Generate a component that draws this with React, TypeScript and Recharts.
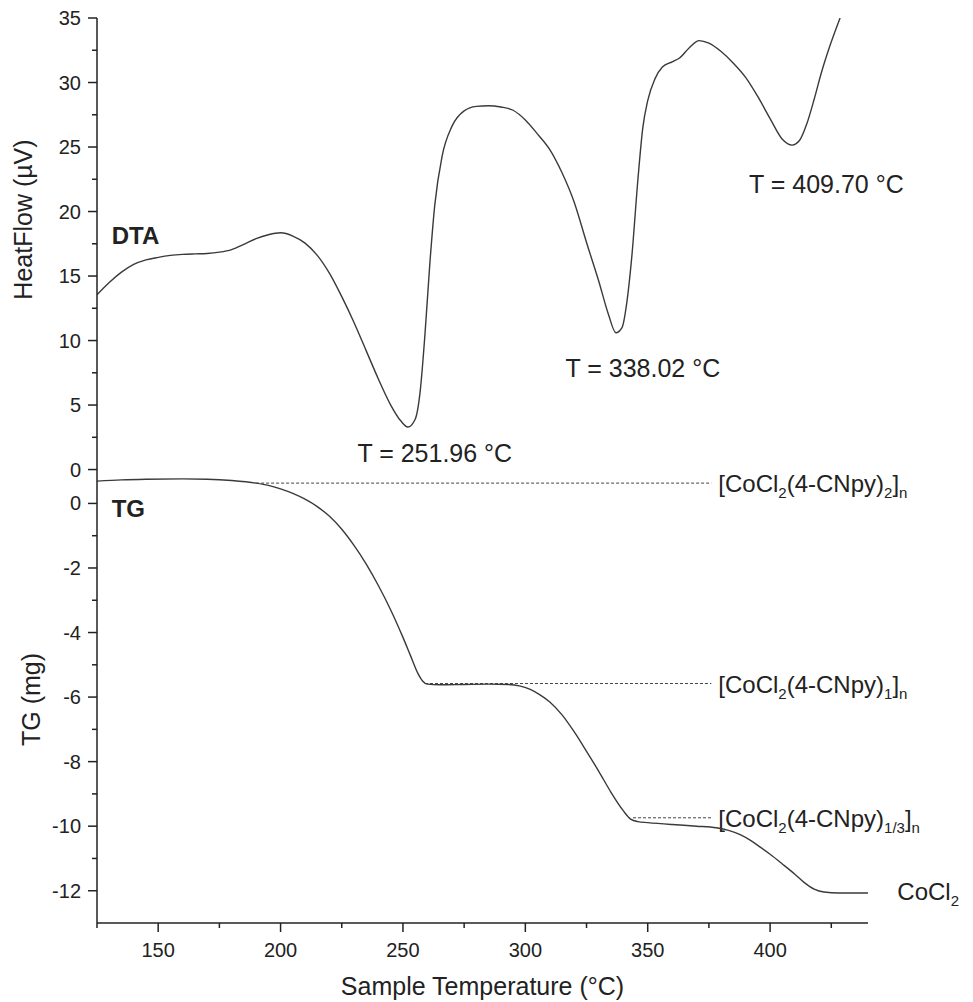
import { LineChart, Line, XAxis, YAxis, ReferenceLine, ReferenceDot } from 'recharts';

const FONT = '"Liberation Sans", Arial, sans-serif';
const INK = '#222';
const CURVE = '#3a3a3a';

// DTA trace (heat flow, µV)
const dtaTemp = [
  125, 130, 135, 140, 145, 150, 155, 160, 165, 170, 175, 180, 185, 190, 195, 200, 205, 210, 215, 220,
  225, 230, 235, 240, 245, 249, 252, 255, 257, 259, 261, 263, 266, 270, 275, 280, 285, 290, 295, 300,
  305, 310, 315, 320, 325, 330, 334, 337, 339.5, 341.5, 343.5, 346, 348, 350, 353, 356, 360, 363, 367,
  371, 375, 380, 385, 390, 395, 400, 405, 409, 412, 415, 418, 421, 424, 428.6,
];
const dtaHeat = [
  13.55, 14.5, 15.3, 15.9, 16.25, 16.45, 16.6, 16.68, 16.72, 16.75, 16.85, 17.05, 17.45, 17.9, 18.2,
  18.35, 18.1, 17.55, 16.6, 15.2, 13.4, 11.4, 9.2, 7.0, 5.0, 3.8, 3.3, 3.9, 6.0, 10.5, 16.0, 20.5,
  24.3, 26.6, 27.8, 28.15, 28.2, 28.1, 27.85, 27.1, 26.0, 24.8, 23.0, 20.7, 17.6, 14.6, 12.0, 10.6,
  11.0, 13.0, 16.5, 22.5, 26.5, 28.6, 30.3, 31.2, 31.6, 31.9, 32.7, 33.25, 33.05, 32.4, 31.5, 30.4,
  28.9, 27.2, 25.6, 25.15, 25.5, 26.8, 28.7, 30.8, 32.6, 35,
];

// TG trace (mass change, mg)
const tgTemp = [
  125, 135, 145, 160, 170, 180, 190, 195, 200, 205, 210, 215, 220, 225, 230, 235, 240, 245, 250, 253,
  256, 258, 260, 265, 275, 285, 293, 298, 302, 306, 310, 315, 320, 325, 330, 335, 340, 343, 346, 350,
  360, 370, 378, 383, 388, 392, 396, 400, 405, 410, 414, 418, 422, 428, 440,
];
const tgMass = [
  0.69, 0.73, 0.75, 0.76, 0.75, 0.71, 0.63, 0.56, 0.45, 0.31, 0.13, -0.1, -0.4, -0.8, -1.3, -1.88,
  -2.55, -3.3, -4.15, -4.7, -5.25, -5.5, -5.6, -5.62, -5.61, -5.6, -5.61, -5.66, -5.76, -5.93, -6.15,
  -6.55, -7.08, -7.68, -8.3, -8.95, -9.52, -9.78, -9.86, -9.89, -9.95, -10.0, -10.05, -10.13, -10.27,
  -10.44, -10.65, -10.87, -11.17, -11.48, -11.75, -11.95, -12.04, -12.07, -12.07,
];

const xTicks = [125, 150, 175, 200, 225, 250, 275, 300, 325, 350, 375, 400, 425];
const dtaTicks = [0, 2.5, 5, 7.5, 10, 12.5, 15, 17.5, 20, 22.5, 25, 27.5, 30, 32.5, 35];
const tgTicks = [-12, -11, -10, -9, -8, -7, -6, -5, -4, -3, -2, -1, 0];

// DTA peak annotations
const peakTemps = [251.96, 338.02, 409.7];
const peakLabelX = [263, 348, 423];
const peakLabelY = [0.6, 7.2, 21.45];

// TG plateaus
const stepLevel = [0.63, -5.58, -9.74];
const stepFrom = [190, 259, 344];
const stepLigand = ['2', '1', '1/3'];
const stepTo = 376;

const dtaData = dtaTemp.map((t, i) => ({ t, v: dtaHeat[i] }));
const tgData = tgTemp.map((t, i) => ({ t, v: tgMass[i] }));

const XTick = ({ x, y, payload }: any) => {
  const major = payload.value % 50 === 0;
  return (
    <g>
      <line x1={x} x2={x} y1={y} y2={y + (major ? 9 : 5)} stroke={INK} strokeWidth={1.5} />
      {major && (
        <text x={x} y={y + 34} textAnchor="middle" fontSize={20} fill={INK} fontFamily={FONT}>
          {payload.value}
        </text>
      )}
    </g>
  );
};

const makeYTick = (step: number) => ({ x, y, payload }: any) => {
  const major = Math.abs(payload.value % step) < 1e-6;
  return (
    <g>
      <line x1={x - (major ? 9 : 5)} x2={x} y1={y} y2={y} stroke={INK} strokeWidth={1.5} />
      {major && (
        <text x={x - 16} y={y + 7} textAnchor="end" fontSize={20} fill={INK} fontFamily={FONT}>
          {payload.value}
        </text>
      )}
    </g>
  );
};

const yTitle = (text: string, dx: number, frac: number) => (props: any) => {
  const vb = props.viewBox;
  const cy = vb.y + vb.height * frac;
  return (
    <text
      transform={`translate(${dx},${cy}) rotate(-90)`}
      textAnchor="middle"
      fontSize={25}
      fill={INK}
      fontFamily={FONT}
    >
      {text}
    </text>
  );
};

const xTitle = (props: any) => {
  const vb = props.viewBox;
  return (
    <text x={vb.x + vb.width / 2} y={vb.y + 72} textAnchor="middle" fontSize={25} fill={INK} fontFamily={FONT}>
      Sample Temperature (°C)
    </text>
  );
};

const textAt = (text: string, size: number, bold = false, anchor = 'start') => (props: any) => {
  const vb = props.viewBox;
  return (
    <text
      x={vb.x + vb.width / 2}
      y={vb.y + vb.height / 2}
      textAnchor={anchor}
      fontSize={size}
      fontWeight={bold ? 'bold' : 'normal'}
      fill={INK}
      fontFamily={FONT}
    >
      {text}
    </text>
  );
};

const formula = (sub: string) => (props: any) => {
  const vb = props.viewBox;
  return (
    <text x={vb.x + vb.width + 7} y={vb.y + 9} fontSize={24} fill={INK} fontFamily={FONT}>
      [CoCl<tspan dy={6} fontSize={15}>2</tspan>
      <tspan dy={-6}>(4-CNpy)</tspan>
      <tspan dy={6} fontSize={15}>{sub}</tspan>
      <tspan dy={-6}>]</tspan>
      <tspan dy={6} fontSize={15}>n</tspan>
    </text>
  );
};

const cocl2 = (props: any) => {
  const vb = props.viewBox;
  return (
    <text x={vb.x} y={vb.y} fontSize={24} fill={INK} fontFamily={FONT}>
      CoCl<tspan dy={6} fontSize={15}>2</tspan>
    </text>
  );
};

const App = () => {
  return (
    <div style={{ position: 'absolute', left: 0, top: 0, width: 973, height: 1002, background: '#fff' }}>
      {/* TG panel with the shared temperature axis */}
      <div style={{ position: 'absolute', left: 0, top: 0 }}>
        <LineChart width={973} height={1002} data={tgData} margin={{ top: 476, right: 105, left: 0, bottom: 0 }}>
          <XAxis
            dataKey="t"
            type="number"
            domain={[125, 440]}
            allowDataOverflow
            ticks={xTicks}
            height={79}
            tickSize={0}
            tickMargin={0}
            tick={<XTick />}
            axisLine={{ stroke: INK, strokeWidth: 1.5 }}
            label={xTitle}
          />
          <YAxis
            dataKey="v"
            type="number"
            domain={[-13, 0.85]}
            allowDataOverflow
            ticks={tgTicks}
            width={97}
            tickSize={0}
            tickMargin={0}
            tick={makeYTick(2)}
            axisLine={{ stroke: INK, strokeWidth: 1.5 }}
            label={yTitle('TG (mg)', 40, 0.5)}
          />
          {stepLevel.map((lv, i) => (
            <ReferenceLine
              key={i}
              segment={[{ x: stepFrom[i], y: lv }, { x: stepTo, y: lv }]}
              stroke="#444"
              strokeWidth={1}
              strokeDasharray="3 2"
              label={formula(stepLigand[i])}
            />
          ))}
          <ReferenceDot x={452} y={-12.3} r={0} fill="none" stroke="none" ifOverflow="visible" label={cocl2} />
          <ReferenceDot x={131} y={-0.43} r={0} fill="none" stroke="none" label={textAt('TG', 24, true)} />
          <Line dataKey="v" type="monotone" stroke={CURVE} strokeWidth={1.4} dot={false} isAnimationActive={false} />
        </LineChart>
      </div>
      {/* DTA panel */}
      <div style={{ position: 'absolute', left: 0, top: 0 }}>
        <LineChart width={973} height={480} data={dtaData} margin={{ top: 18, right: 105, left: 0, bottom: 4 }}>
          <XAxis dataKey="t" type="number" domain={[125, 440]} allowDataOverflow hide />
          <YAxis
            dataKey="v"
            type="number"
            domain={[-0.5, 35]}
            allowDataOverflow
            ticks={dtaTicks}
            width={97}
            tickSize={0}
            tickMargin={0}
            tick={makeYTick(5)}
            axisLine={{ stroke: INK, strokeWidth: 1.5 }}
            label={yTitle('HeatFlow (µV)', 32, 0.44)}
          />
          <ReferenceDot x={131} y={17.5} r={0} fill="none" stroke="none" label={textAt('DTA', 24, true)} />
          {peakTemps.map((p, i) => (
            <ReferenceDot
              key={i}
              x={peakLabelX[i]}
              y={peakLabelY[i]}
              r={0}
              fill="none"
              stroke="none"
              label={textAt(`T = ${p.toFixed(2)} °C`, 25, false, 'middle')}
            />
          ))}
          <Line dataKey="v" type="monotone" stroke={CURVE} strokeWidth={1.4} dot={false} isAnimationActive={false} />
        </LineChart>
      </div>
    </div>
  );
};

export default App;
